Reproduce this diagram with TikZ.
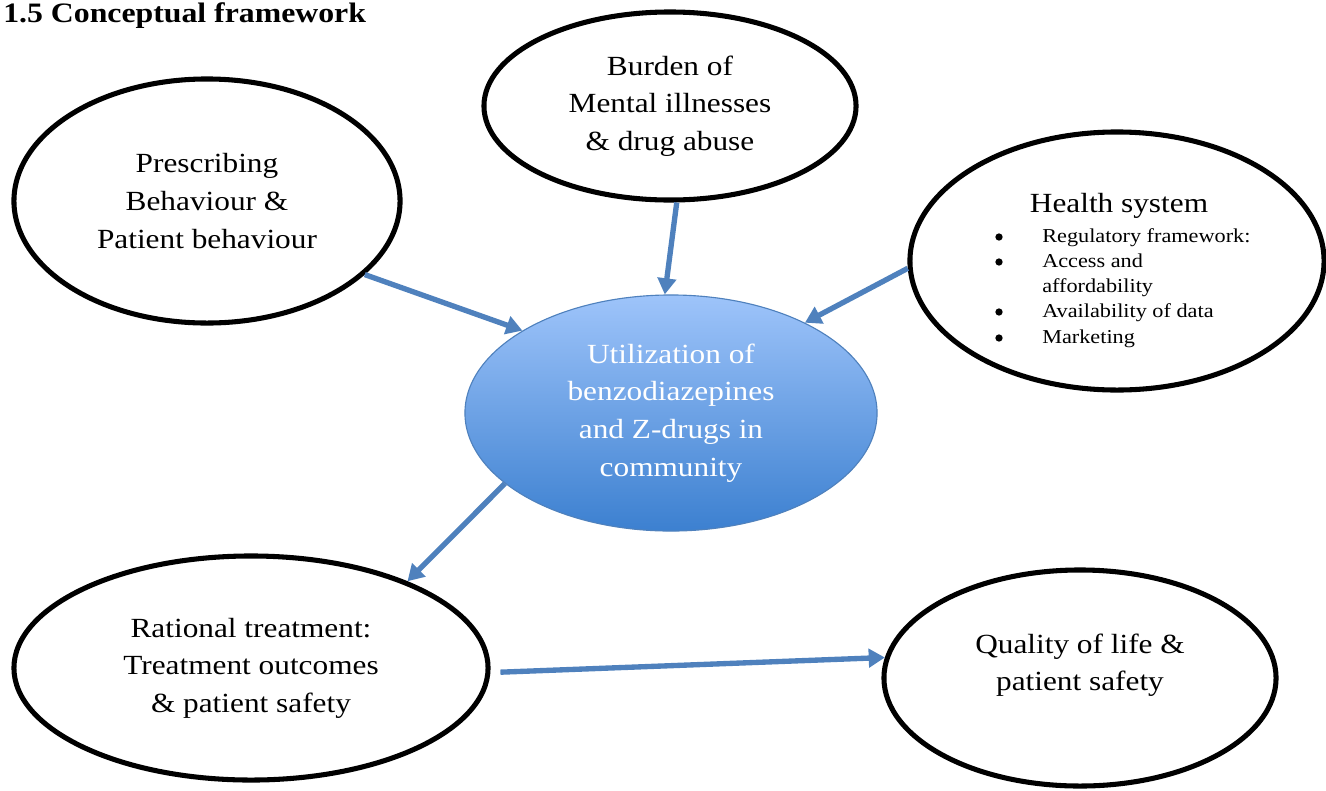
\documentclass[tikz,border=0pt]{standalone}
\usepackage{fontspec}
\setmainfont[FakeStretch=1.13]{Liberation Serif}
\usepackage{tikz}
\usetikzlibrary{shapes.geometric}
\usetikzlibrary{arrows.meta}

\definecolor{linkblue}{RGB}{79,129,189}
\definecolor{blobtop}{RGB}{158,196,250}
\definecolor{blobbottom}{RGB}{60,128,208}

\tikzset{
  bubble/.style={ellipse, draw=black, line width=3.6pt, inner sep=0pt, align=center,
    font=\fontsize{19.7}{26.7}\selectfont},
  core/.style={ellipse, draw=linkblue, line width=0.8pt, top color=blobtop,
    bottom color=blobbottom, text=white, inner sep=0pt, align=center,
    font=\fontsize{19.7}{26.7}\selectfont},
  link/.style={draw=linkblue, line width=3.8pt, -{Triangle[length=11.5pt,width=13pt]}}
}

\begin{document}
\begin{tikzpicture}[x=0.025cm,y=-0.025cm]
  \useasboundingbox (0,0) rectangle (1326,790);

  \node [anchor=base west, inner sep=0pt, font=\bfseries\fontsize{20}{24}\selectfont] (heading) at (3,22) {1.5 Conceptual framework};

  \node [bubble, minimum width=9.65cm, minimum height=6.1cm] (presc) at (207,201) {Prescribing\\Behaviour \&\\Patient behaviour};
  \node [bubble, minimum width=9.3cm, minimum height=4.7cm] (burden) at (670,106) {Burden of\\Mental illnesses\\\& drug abuse};
  \node [bubble, minimum width=10.35cm, minimum height=6.45cm] (health) at (1117,261) {};
  \node [anchor=base, font=\fontsize{19.7}{26.7}\selectfont] (hstitle) at (1119,212) {Health system};
  \node [anchor=base west, inner sep=0pt, align=left, font=\fontsize{14}{17.95}\selectfont] (hslist) at (1042,343)
    {Regulatory framework:\\Access and\\affordability\\Availability of data\\Marketing};
  \foreach \y in {242,267,317,343}
    \fill (999,\y-5) circle [radius=2.6pt];

  \node [core, minimum width=10.3cm, minimum height=5.9cm] (util) at (671,413) {Utilization of\\benzodiazepines\\and Z-drugs in\\community};

  \node [bubble, minimum width=11.85cm, minimum height=5.6cm] (rational) at (251,668) {Rational treatment:\\Treatment outcomes\\\& patient safety};
  \node [bubble, minimum width=9.8cm, minimum height=5.4cm] (quality) at (1080,678) {};
  \node [font=\fontsize{19.7}{26.7}\selectfont, align=center] (qualitytext) at (1080,665) {Quality of life \&\\patient safety};

  \draw [link] (presc.-25.8) -- (util.151.8);
  \draw [link] (burden.-86.5) -- (util.93.8);
  \draw [link] (health.182.5) -- (util.34.6);
  \draw [link] (util.203.9) -- (rational.29.4);
  \draw [link] ([xshift=0.25cm]rational.-1) -- (quality.174.9);
\end{tikzpicture}
\end{document}
